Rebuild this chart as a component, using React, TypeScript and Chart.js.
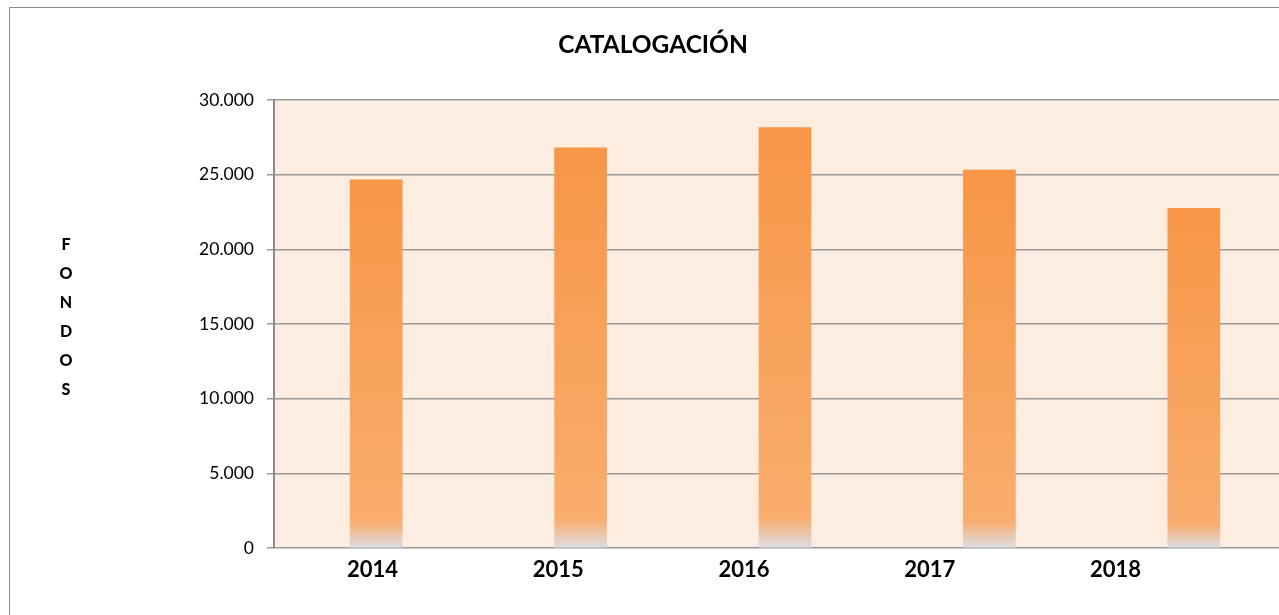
import React, { useEffect, useRef } from "react";
import { Chart, registerables } from "chart.js";

Chart.register(...registerables);

const categories = ["2014", "2015", "2016", "2017", "2018"];
const fondosValues = [24650, 26800, 28150, 25300, 22750];
const yTickValues = [0, 5000, 10000, 15000, 20000, 25000, 30000];
const chartTitle = "CATALOGACIÓN";
const axisTitleLetters = ["F", "O", "N", "D", "O", "S"];

const FONT = "Lato, 'Open Sans', 'DejaVu Sans', sans-serif";
const LABEL_SHIFT = 0.53;
const LABEL_AXIS_MAX = 5.502;

function fmt(v: number): string {
  return String(v).replace(/\B(?=(\d{3})+(?!\d))/g, ".");
}

const plotBackground = {
  id: "plotBackground",
  beforeDraw(chart: any) {
    const { ctx, chartArea } = chart;
    if (!chartArea) return;
    ctx.save();
    ctx.fillStyle = "#FDECE0";
    ctx.fillRect(chartArea.left, chartArea.top, chartArea.right - chartArea.left, chartArea.bottom - chartArea.top);
    ctx.restore();
  },
};

const stackedAxisTitle = {
  id: "stackedAxisTitle",
  afterDraw(chart: any) {
    const { ctx } = chart;
    ctx.save();
    ctx.font = `900 16px ${FONT}`;
    ctx.fillStyle = "#000";
    ctx.textAlign = "center";
    ctx.textBaseline = "middle";
    axisTitleLetters.forEach((ch, i) => {
      ctx.fillText(ch, 56, 236.5 + i * 29.04);
    });
    ctx.restore();
  },
};

export default function App() {
  const ref = useRef<HTMLCanvasElement | null>(null);

  useEffect(() => {
    if (!ref.current) return;
    const chart = new Chart(ref.current, {
      type: "bar",
      data: {
        labels: categories,
        datasets: [
          {
            data: fondosValues,
            barThickness: 52,
            borderWidth: 0,
            xAxisID: "x",
            yAxisID: "y",
            backgroundColor: (c: any) => {
              const ch = c.chart;
              const y = ch.scales?.y;
              if (!y || c.raw == null) return "#F79646";
              const top = y.getPixelForValue(c.raw);
              const base = y.getPixelForValue(0);
              if (!isFinite(top) || !isFinite(base) || base - top < 1) return "#F79646";
              const g = ch.ctx.createLinearGradient(0, top, 0, base);
              g.addColorStop(0, "rgb(247,150,70)");
              g.addColorStop(0.93, "rgb(249,173,110)");
              g.addColorStop(1, "rgb(221,221,229)");
              return g;
            },
          } as any,
        ],
      },
      options: {
        animation: false,
        responsive: false,
        devicePixelRatio: 1,
        layout: { padding: { left: 0, right: 2, top: 0, bottom: 0 } },
        plugins: {
          legend: { display: false },
          tooltip: { enabled: false },
          title: {
            display: true,
            text: chartTitle,
            color: "#000",
            font: { family: FONT, size: 24.5, weight: "bold", lineHeight: 1.2 },
            padding: { top: 22, bottom: 40.6 },
          },
        },
        scales: {
          x: {
            type: "category",
            display: false,
            offset: true,
          },
          xl: {
            type: "linear",
            axis: "x",
            position: "bottom",
            offset: false,
            bounds: "data",
            min: 0,
            max: LABEL_AXIS_MAX,
            grid: { display: false, drawTicks: false, offset: false },
            border: { display: false },
            afterBuildTicks: (axis: any) => {
              axis.ticks = categories.map((_, i) => ({ value: i + LABEL_SHIFT }));
            },
            afterFit: (s: any) => {
              s.height = 72;
            },
            ticks: {
              autoSkip: false,
              maxRotation: 0,
              padding: 9,
              color: "#000",
              font: { family: FONT, size: 22, weight: "bold" },
              callback: (v: any) => categories[Math.round(Number(v) - LABEL_SHIFT)] ?? "",
            },
          } as any,
          y: {
            min: 0,
            max: 30000,
            afterBuildTicks: (axis: any) => {
              axis.ticks = yTickValues.map((v) => ({ value: v }));
            },
            afterFit: (s: any) => {
              s.width = 264;
            },
            grid: { color: "#999999", lineWidth: 1.5, tickLength: 7 },
            border: { color: "#8c8c8c", width: 2 },
            ticks: {
              padding: 13,
              color: "#000",
              font: { family: FONT, size: 17.5 },
              callback: (v: any) => fmt(Number(v)),
            },
          } as any,
        },
      } as any,
      plugins: [plotBackground, stackedAxisTitle],
    });
    return () => chart.destroy();
  }, []);

  return (
    <div style={{ position: "absolute", left: 0, top: 0, width: 1279, height: 615, overflow: "hidden", background: "#fff" }}>
      <div
        style={{
          position: "absolute",
          left: 9,
          top: 7,
          width: 1288,
          height: 640,
          border: "1px solid #8c8c8c",
          background: "#fff",
        }}
      >
        <canvas ref={ref} width={1288} height={612} style={{ display: "block", width: 1288, height: 612 }} />
      </div>
    </div>
  );
}
